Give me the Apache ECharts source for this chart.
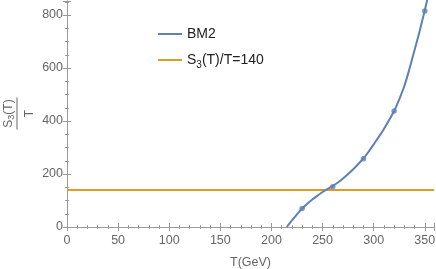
<!DOCTYPE html>
<html>
<head>
<meta charset="utf-8">
<script src="https://cdn.jsdelivr.net/npm/echarts@6/dist/echarts.min.js"></script>
<style>
html,body{margin:0;padding:0;background:#fff;}
#chart{width:436px;height:269px;}
</style>
</head>
<body>
<div id="chart"></div>
<script>
// Data
const curveT = [215, 220, 225, 230, 235, 240, 245, 250, 255, 260, 265, 270, 275, 280, 285, 290, 295, 300, 305, 310, 315, 320, 325, 330, 335, 340, 345, 350, 353];
const curveS = [0, 25, 48, 70, 88, 104, 118, 132, 144, 155, 168, 183, 200, 218, 238, 259, 284, 312, 340, 370, 403, 438, 482, 532, 597, 668, 740, 818, 868];
const pointT = [230, 260, 290, 320, 350];
const pointS = [70, 152, 258, 438, 815];
const levelT = [0, 359];
const levelS = [140, 140];
const xTicks = [0, 50, 100, 150, 200, 250, 300, 350];
const yTicks = [0, 200, 400, 600, 800];
const seriesNames = ['BM2', 'S3(T)/T=140'];

const X_MIN = 0, X_MAX = 359, Y_MIN = 0, Y_MAX = 853;
const blue = '#5E81B5', orange = '#E19C24', frame = '#9a9a9a', tickText = '#666';
const FONT = 'Liberation Sans, Arial, sans-serif';

const chart = echarts.init(document.getElementById('chart'), null, {renderer: 'canvas'});

function axisCommon(showLabel) {
  return {
    axisLine: {show: true, lineStyle: {color: frame, width: 1}},
    axisTick: {show: true, inside: true, length: 4, lineStyle: {color: frame}},
    minorTick: {show: true, splitNumber: 5, length: 2, lineStyle: {color: frame}},
    splitLine: {show: false},
    axisLabel: {show: showLabel, color: tickText, fontSize: 12, fontFamily: FONT, showMaxLabel: false}
  };
}

const xBottom = Object.assign(axisCommon(true), {
  type: 'value', position: 'bottom', min: X_MIN, max: X_MAX, interval: 50,
  name: 'T(GeV)', nameLocation: 'middle', nameGap: 29,
  nameTextStyle: {color: tickText, fontSize: 12.5, fontFamily: FONT}
});
xBottom.axisLabel.margin = 7;
xBottom.axisLabel.fontSize = 12.5;
xBottom.axisLabel.formatter = v => (xTicks.indexOf(v) >= 0 ? String(v) : '');
const xTop = Object.assign(axisCommon(false), {type: 'value', position: 'top', min: X_MIN, max: X_MAX, interval: 50});

const yLeft = Object.assign(axisCommon(true), {type: 'value', position: 'left', min: Y_MIN, max: Y_MAX, interval: 200});
yLeft.minorTick.splitNumber = 4;
yLeft.axisLabel.margin = 4;
yLeft.axisLabel.fontSize = 12.5;
yLeft.axisLabel.formatter = v => (yTicks.indexOf(v) >= 0 ? String(v) : '');
const yRight = Object.assign(axisCommon(false), {type: 'value', position: 'right', min: Y_MIN, max: Y_MAX, interval: 200});
yRight.minorTick.splitNumber = 4;

const option = {
  animation: false,
  backgroundColor: '#fff',
  grid: {left: 67, right: 2, top: 1, bottom: 42, containLabel: false, outerBoundsMode: 'none'},
  xAxis: [xBottom, xTop],
  yAxis: [yLeft, yRight],
  legend: {
    data: seriesNames,
    orient: 'vertical',
    left: 153, top: 22,
    itemWidth: 24, itemHeight: 2, itemGap: 12,
    icon: 'rect',
    selectedMode: false,
    formatter: name => (name === 'BM2' ? '{m|BM2}' : '{m|S}{sub|3}{m|(T)/T=140}'),
    textStyle: {
      color: '#222', fontSize: 14, fontFamily: FONT,
      rich: {
        m: {color: '#222', fontSize: 14, fontFamily: FONT, lineHeight: 20, verticalAlign: 'middle'},
        sub: {color: '#222', fontSize: 10, fontFamily: FONT, lineHeight: 10, verticalAlign: 'bottom'}
      }
    }
  },
  series: [
    {
      name: seriesNames[0], type: 'line', xAxisIndex: 0, yAxisIndex: 0,
      data: curveT.map((t, i) => [t, curveS[i]]),
      smooth: 0.3, showSymbol: false, symbol: 'none',
      lineStyle: {color: blue, width: 2}, itemStyle: {color: blue}, clip: true, z: 3
    },
    {
      name: 'BM2 points', type: 'scatter', xAxisIndex: 0, yAxisIndex: 0,
      data: pointT.map((t, i) => [t, pointS[i]]),
      symbolSize: 5.5, itemStyle: {color: blue}, z: 4
    },
    {
      name: seriesNames[1], type: 'line', xAxisIndex: 0, yAxisIndex: 0,
      data: levelT.map((t, i) => [t, levelS[i]]),
      showSymbol: false, symbol: 'none',
      lineStyle: {color: orange, width: 2}, itemStyle: {color: orange}, z: 2
    }
  ],
  graphic: [
    {
      type: 'group', x: 17, y: 113.5, rotation: Math.PI / 2,
      children: [
        {type: 'text', x: 0, y: -8.5, style: {
          text: '{m|S}{sub|3}{m|(T)}', align: 'center', verticalAlign: 'middle',
          rich: {
            m: {fill: tickText, fontSize: 12, fontFamily: FONT, lineHeight: 16, verticalAlign: 'middle'},
            sub: {fill: tickText, fontSize: 9, fontFamily: FONT, lineHeight: 9, verticalAlign: 'bottom'}
          }
        }},
        {type: 'line', shape: {x1: -16, y1: 0, x2: 16, y2: 0}, style: {stroke: tickText, lineWidth: 1}},
        {type: 'text', x: 0, y: 12.5, style: {text: 'T', fill: tickText, font: '12px ' + FONT, align: 'center', verticalAlign: 'middle'}}
      ]
    }
  ]
};
chart.setOption(option);
</script>
</body>
</html>
